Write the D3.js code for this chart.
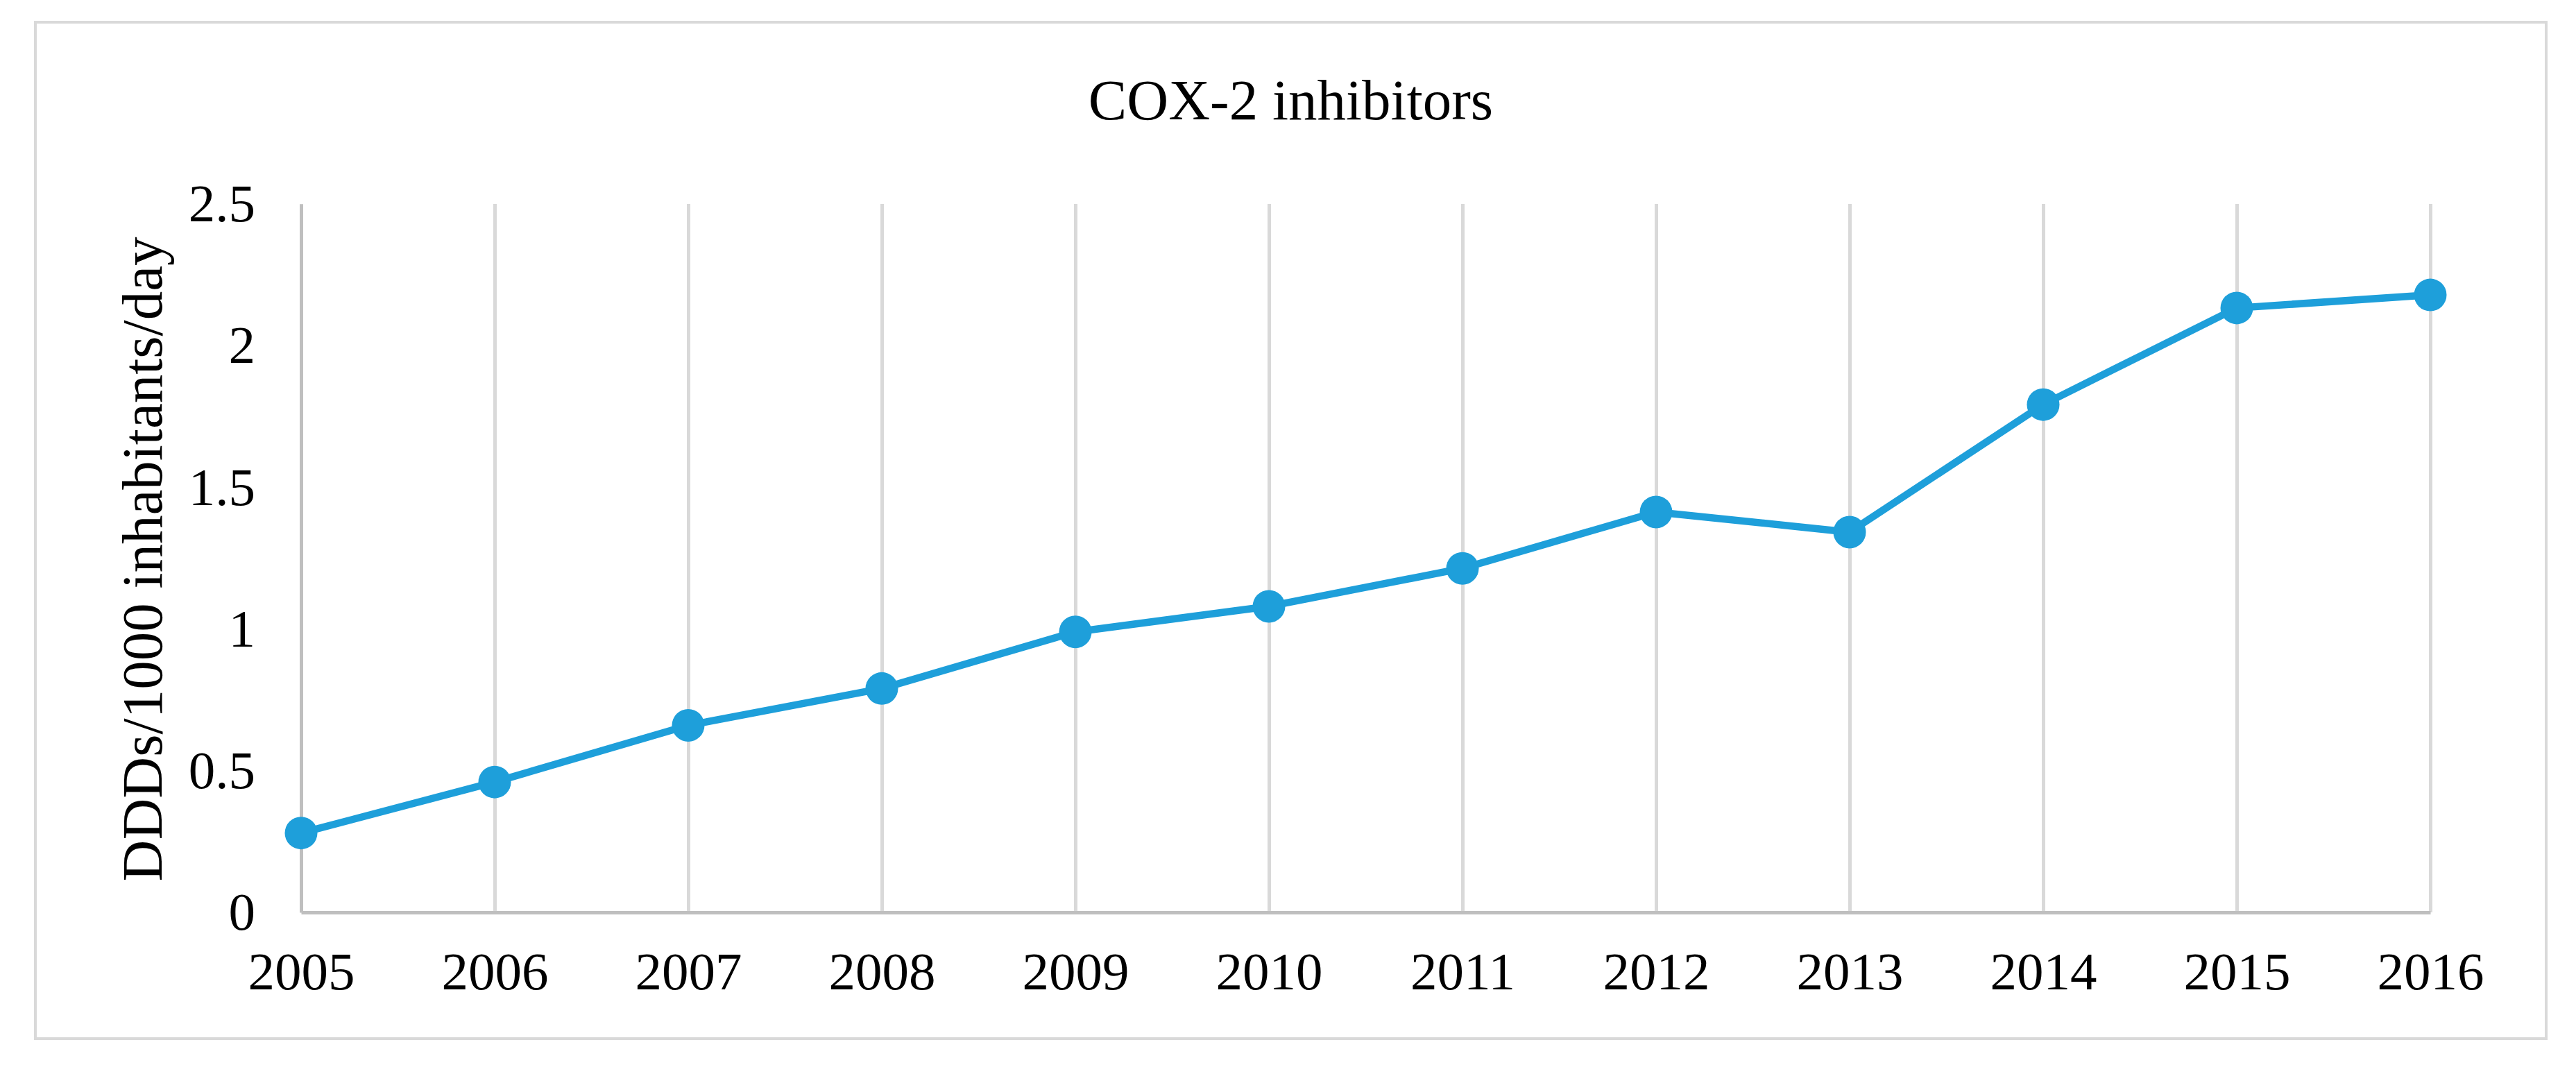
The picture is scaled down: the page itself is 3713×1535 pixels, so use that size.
<!DOCTYPE html>
<html>
<head>
<meta charset="utf-8">
<script src="https://cdn.jsdelivr.net/npm/d3@7"></script>
<style>
  html, body { margin: 0; padding: 0; background: #fff; }
  svg text { font-family: "Liberation Serif", "Times New Roman", serif; fill: #000; }
</style>
</head>
<body>
<div id="chart"></div>
<script>
const years = ["2005", "2006", "2007", "2008", "2009", "2010", "2011", "2012", "2013", "2014", "2015", "2016"];
const values = [0.28, 0.46, 0.66, 0.79, 0.99, 1.08, 1.214, 1.413, 1.342, 1.792, 2.133, 2.179];
const yTicks = [0, 0.5, 1, 1.5, 2, 2.5];
const yTickLabels = ["0", "0.5", "1", "1.5", "2", "2.5"];
const title = "COX-2 inhibitors";
const yLabel = "DDDs/1000 inhabitants/day";

const W = 3713, H = 1535;
const margin = {top: 294, right: 210, bottom: 220, left: 434};
const width = W - margin.left - margin.right;
const height = H - margin.top - margin.bottom;
const blue = "#1e9fda";

const svg = d3.select("#chart")
  .append("svg")
  .attr("width", W)
  .attr("height", H);

// chart frame
svg.append("rect")
  .attr("x", 51).attr("y", 32)
  .attr("width", 3670 - 51).attr("height", 1497 - 32)
  .attr("fill", "none")
  .attr("stroke", "#d9d9d9")
  .attr("stroke-width", 4);

svg.append("text")
  .attr("x", (51 + 3670) / 2)
  .attr("y", 172)
  .attr("text-anchor", "middle")
  .style("font-size", "83px")
  .text(title);

const g = svg.append("g")
  .attr("transform", "translate(" + margin.left + "," + margin.top + ")");

let x = d3.scalePoint(years, [0, width]);
let y = d3.scaleLinear([0, 2.5], [height, 0]);

// vertical gridlines
g.append("g")
  .attr("transform", `translate(0,${height})`)
  .call(d3.axisBottom(x).tickSize(-height).tickFormat(""))
  .call(a => a.select(".domain").remove())
  .call(a => a.selectAll(".tick line")
    .attr("stroke", "#d9d9d9")
    .attr("stroke-width", 5));

// y axis
g.append("g")
  .call(d3.axisLeft(y).tickValues(yTicks)
    .tickFormat((d, i) => yTickLabels[i])
    .tickSize(0).tickPadding(66))
  .call(a => a.select(".domain").attr("stroke", "#bfbfbf").attr("stroke-width", 5))
  .call(a => a.selectAll("text").style("font-size", "77px").attr("font-family", null));

// x axis
g.append("g")
  .attr("transform", `translate(0,${height})`)
  .call(d3.axisBottom(x).tickSize(0).tickPadding(56))
  .call(a => a.select(".domain").attr("stroke", "#bfbfbf").attr("stroke-width", 5))
  .call(a => a.selectAll("text").style("font-size", "77px").attr("font-family", null));

svg.append("text")
  .attr("transform", `translate(233,806) rotate(-90)`)
  .attr("text-anchor", "middle")
  .style("font-size", "83px")
  .text(yLabel);

const line = d3.line()
  .x((d, i) => x(years[i]))
  .y(d => y(d));

g.append("path")
  .datum(values)
  .attr("fill", "none")
  .attr("stroke", blue)
  .attr("stroke-width", 10.5)
  .attr("stroke-linejoin", "round")
  .attr("d", line);

g.append("g")
  .selectAll("circle")
  .data(values)
  .join("circle")
    .attr("cx", (d, i) => x(years[i]))
    .attr("cy", d => y(d))
    .attr("r", 23.5)
    .attr("fill", blue);
</script>
</body>
</html>
